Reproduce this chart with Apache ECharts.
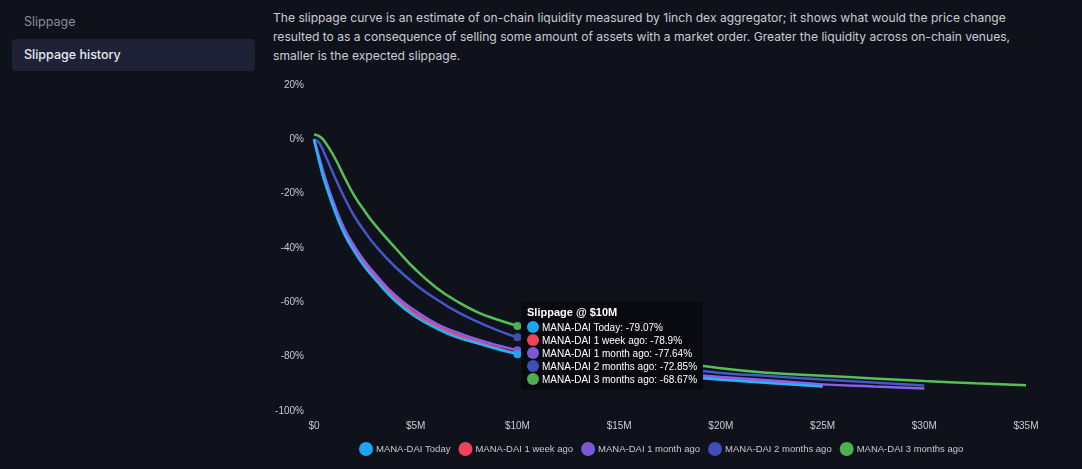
<!DOCTYPE html>
<html>
<head>
<meta charset="utf-8">
<script src="https://cdn.jsdelivr.net/npm/echarts@6/dist/echarts.min.js"></script>
<style>
  html, body { margin: 0; padding: 0; background: #10121b; width: 1082px; height: 469px; overflow: hidden; }
  body { font-family: Inter, "Noto Sans", sans-serif; }
  .side1 { position: absolute; left: 24px; top: 14px; font-size: 12.5px; color: #8b8e9c; }
  .side2 { position: absolute; left: 12px; top: 39px; width: 243px; height: 32px; background: #1f2237; border-radius: 4px; }
  .side2 span { position: absolute; left: 12px; top: 8px; font-size: 12.5px; color: #e8e9ef; font-weight: 500; }
  .desc { position: absolute; left: 273px; top: 8px; font-size: 12.1px; line-height: 19px; color: #c9cbd4; white-space: nowrap; }
  #main { position: absolute; left: 260px; top: 70px; width: 822px; height: 399px; }
</style>
</head>
<body>
<div class="side1">Slippage</div>
<div class="side2"><span>Slippage history</span></div>
<div class="desc">The slippage curve is an estimate of on-chain liquidity measured by 1inch dex aggregator; it shows what would the price change<br>resulted to as a consequence of selling some amount of assets with a market order. Greater the liquidity across on-chain venues,<br>smaller is the expected slippage.</div>
<div id="main"></div>
<script>
// trade size in $M
const sizes = [0, 0.25, 0.5, 1, 1.5, 2, 2.5, 3, 4, 5, 6, 7, 8, 9, 10, 12.5, 15, 17.5, 20, 22.5, 25, 27.5, 30, 32.5, 35]

const names = ['MANA-DAI Today', 'MANA-DAI 1 week ago', 'MANA-DAI 1 month ago', 'MANA-DAI 2 months ago', 'MANA-DAI 3 months ago']
const colors = ['#1ea4f2', '#f0435b', '#7a58d6', '#3e4fb7', '#4caf50']

// slippage in %
const today = [0, -8, -15, -26, -35, -41.5, -47, -51.5, -59.5, -65.3, -69.5, -72.8, -75, -77.2, -79.07, -83.5, -85.5, -87, -88.5, -89.8, -91]
const weekAgo = [0, -7.2, -14, -25, -34, -40.5, -46, -50.5, -58.5, -64.3, -68.7, -72, -74.5, -76.8, -78.9, -83, -85.2, -86.8, -88.2, -89.5, -90.8]
const monthAgo = [0, -6.5, -13, -24, -33, -39.5, -45, -49.5, -57.5, -63.2, -67.8, -71, -73.6, -75.8, -77.64, -82, -84.5, -86, -87.5, -88.8, -90.2, -91, -91.7]
const twoMonthsAgo = [0, -1.3, -5, -13.5, -21.5, -28.5, -34, -39, -47, -53.5, -58.8, -63.3, -67, -70.2, -72.85, -78, -81.5, -83.8, -86, -87.2, -88.4, -89.5, -90.6]
const threeMonthsAgo = [1.8, 1.2, -0.5, -6.5, -14, -21, -26.5, -31.5, -40, -48, -54.5, -59.5, -63.5, -66.3, -68.67, -74.5, -78.5, -81.5, -84.3, -86, -87, -88, -89, -89.8, -90.5]

const allValues = [today, weekAgo, monthAgo, twoMonthsAgo, threeMonthsAgo]

const myChart = echarts.init(document.getElementById('main'))

const series = allValues.map((vals, i) => ({
    name: names[i],
    type: 'line',
    z: i === 0 ? 3 : 2,
    smooth: true,
    showSymbol: false,
    symbol: 'circle',
    symbolSize: 8,
    lineStyle: { width: 2.5, color: colors[i] },
    itemStyle: { color: colors[i] },
    emphasis: { scale: false, lineStyle: { width: 2.5 } },
    data: vals.map((v, j) => [sizes[j], v])
}))

function dot(c) {
    return `<span style="display:inline-block;width:12px;height:12px;border-radius:6px;background:${c};margin-right:3px;vertical-align:-2px"></span>`
}

myChart.setOption({
    backgroundColor: 'transparent',
    animation: false,
    grid: { left: 54, right: 56, top: 15, bottom: 58 },
    tooltip: {
        trigger: 'axis',
        triggerOn: 'none',
        alwaysShowContent: true,
        axisPointer: { type: 'line', lineStyle: { opacity: 0 } },
        backgroundColor: '#090a0f',
        borderWidth: 0,
        padding: [3, 6, 4, 6],
        extraCssText: 'box-shadow:none;border-radius:3px;',
        position: [261, 232],
        formatter: (params) => {
            let s = `<div style="font-weight:bold;font-size:11px;line-height:14px;color:#fff;margin-bottom:2px;font-family:'Liberation Sans',Arial">Slippage @ $${params[0].value[0]}M</div>`
            params.forEach(p => {
                s += `<div style="font-size:10px;line-height:13px;color:#fff;font-family:'Liberation Sans',Arial">${dot(p.color)}${p.seriesName}: ${p.value[1]}%</div>`
            })
            return s
        }
    },
    legend: {
        bottom: 8,
        left: 94,
        icon: 'circle',
        itemWidth: 14,
        itemHeight: 14,
        itemGap: 8,
        textStyle: { color: '#c8c9d2', fontSize: 9.5, fontFamily: 'Liberation Sans', padding: [0, 0, 0, -2] },
        data: names
    },
    xAxis: {
        type: 'value',
        min: 0,
        max: 35,
        interval: 5,
        axisLine: { show: false },
        axisTick: { show: false },
        splitLine: { show: false },
        axisLabel: {
            color: '#c8c9d2',
            fontSize: 10,
            margin: 10,
            formatter: v => v === 0 ? '$0' : `$${v}M`
        }
    },
    yAxis: {
        type: 'value',
        min: -100,
        max: 20,
        interval: 20,
        axisLine: { show: false },
        axisTick: { show: false },
        splitLine: { show: false },
        axisLabel: {
            color: '#c8c9d2',
            fontSize: 10,
            margin: 10,
            formatter: v => `${v}%`
        }
    },
    series: series
})

myChart.dispatchAction({ type: 'showTip', seriesIndex: 0, dataIndex: 14 })
</script>
</body>
</html>
